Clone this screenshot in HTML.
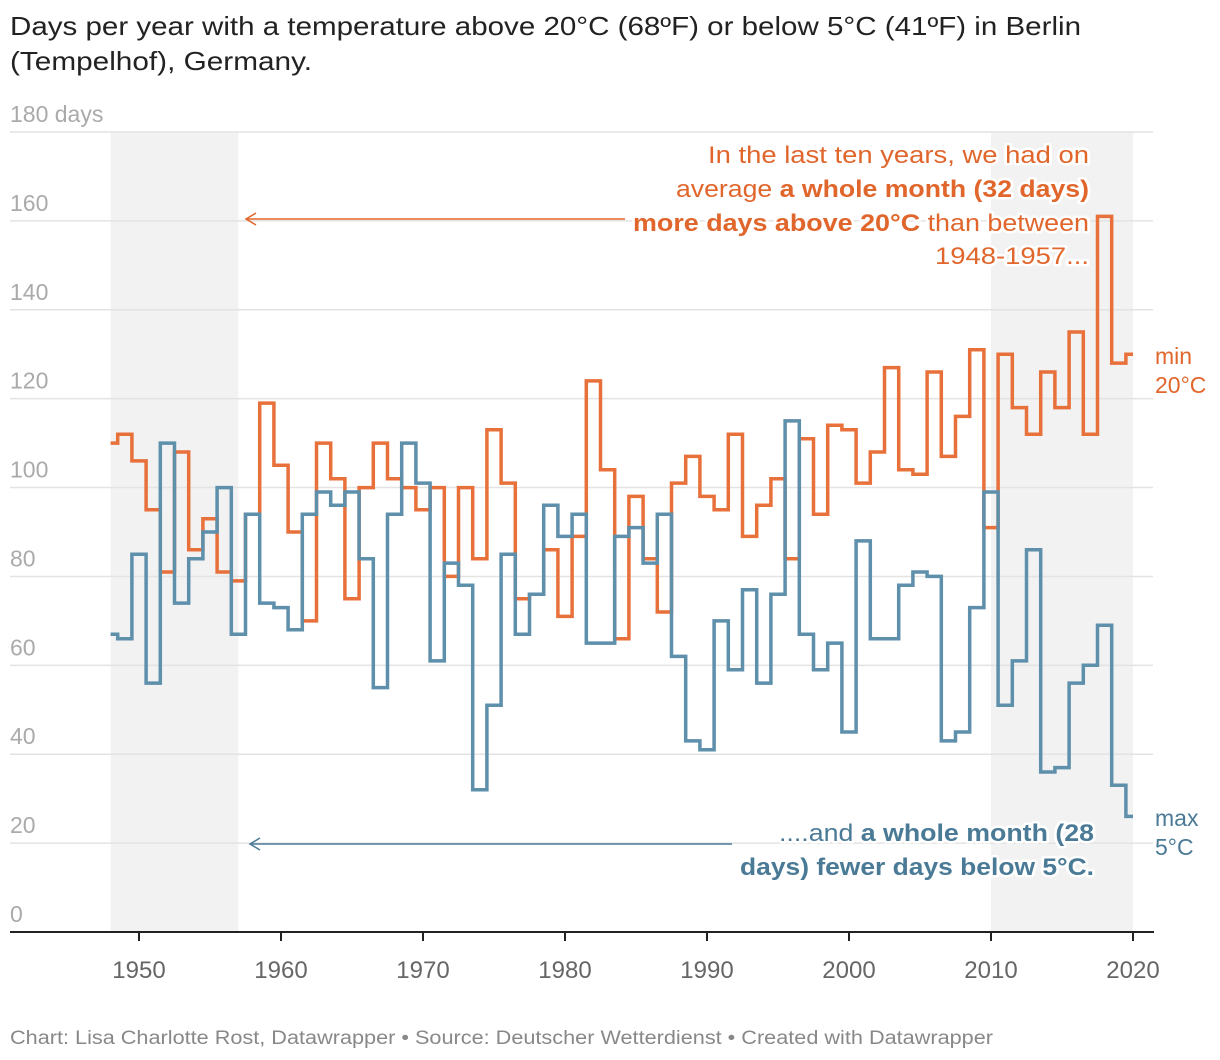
<!DOCTYPE html>
<html><head><meta charset="utf-8"><style>
body{margin:0;background:#fff;}
svg{display:block;font-family:"Liberation Sans",sans-serif;}
.halo{paint-order:stroke;stroke:#fff;stroke-width:5px;stroke-linejoin:round;}
</style></head><body>
<svg id="chart" width="1220" height="1060" viewBox="0 0 1220 1060">
<text x="10" y="35" font-size="26" fill="#222" textLength="1071" lengthAdjust="spacingAndGlyphs">Days per year with a temperature above 20°C (68ºF) or below 5°C (41ºF) in Berlin</text>
<text x="10" y="70" font-size="26" fill="#222" textLength="302" lengthAdjust="spacingAndGlyphs">(Tempelhof), Germany.</text>
<g id="shade"></g>
<g id="grid"></g>
<g id="lines"></g>
<g id="annot">
<line x1="625" y1="219" x2="247" y2="219" stroke="#e0662c" stroke-width="1.5"/>
<polyline points="256,213 246,219 256,225" fill="none" stroke="#e0662c" stroke-width="1.5"/>
<line x1="732" y1="844" x2="251" y2="844" stroke="#4a7a96" stroke-width="1.5"/>
<polyline points="260,838 250,844 260,850" fill="none" stroke="#4a7a96" stroke-width="1.5"/>
<g font-size="24" fill="#e0662c" text-anchor="end" class="halo">
<text x="1089" y="163" textLength="381" lengthAdjust="spacingAndGlyphs">In the last ten years, we had on</text>
<text x="1089" y="197" textLength="413" lengthAdjust="spacingAndGlyphs">average <tspan font-weight="bold">a whole month (32 days)</tspan></text>
<text x="1089" y="231" textLength="456" lengthAdjust="spacingAndGlyphs"><tspan font-weight="bold">more days above 20°C</tspan> than between</text>
<text x="1089" y="264" textLength="154" lengthAdjust="spacingAndGlyphs">1948-1957...</text>
</g>
<g font-size="24" fill="#4a7a96" text-anchor="end" class="halo">
<text x="1094" y="841" textLength="315" lengthAdjust="spacingAndGlyphs">....and <tspan font-weight="bold">a whole month (28</tspan></text>
<text x="1094" y="875" textLength="354" lengthAdjust="spacingAndGlyphs" font-weight="bold">days) fewer days below 5°C.</text>
</g>
<g font-size="23" fill="#e0662c">
<text x="1155" y="364">min</text><text x="1155" y="393">20°C</text></g>
<g font-size="23" fill="#4a7a96">
<text x="1155" y="826">max</text><text x="1155" y="855">5°C</text></g>
</g>
<text x="10" y="1044" font-size="19" fill="#888" textLength="983" lengthAdjust="spacingAndGlyphs">Chart: Lisa Charlotte Rost, Datawrapper • Source: Deutscher Wetterdienst • Created with Datawrapper</text>
</svg>
<script>
const startYear = 1948;
const hotDays = [110,112,106,95,81,108,86,93,81,79,94,119,105,90,70,110,102,75,100,110,102,100,95,100,80,100,84,113,101,75,76,86,71,89,124,104,66,98,84,72,101,107,98,95,112,89,96,102,84,111,94,114,113,101,108,127,104,103,126,107,116,131,91,130,118,112,126,118,135,112,161,128,130];
const coldDays = [67,66,85,56,110,74,84,90,100,67,94,74,73,68,94,99,96,99,84,55,94,110,101,61,83,78,32,51,85,67,76,96,89,94,65,65,89,91,83,94,62,43,41,70,59,77,56,76,115,67,59,65,45,88,66,66,78,81,80,43,45,73,99,51,61,86,36,37,56,60,69,33,26];
const yTicks = [0,20,40,60,80,100,120,140,160,180];
const xTicks = [1950,1960,1970,1980,1990,2000,2010,2020];
const shadeRanges = [[1948,1957],[2010,2020]];

const NS='http://www.w3.org/2000/svg';
const xs = y => 139 + (y-1950)*14.2;
const ys = v => 932 - v*800/180;
function mk(tag, attrs, parent){const e=document.createElementNS(NS,tag);for(const k in attrs)e.setAttribute(k,attrs[k]);parent.appendChild(e);return e;}
const shade=document.getElementById('shade'), grid=document.getElementById('grid'), lines=document.getElementById('lines');
shadeRanges.forEach(r=>{
  const e=mk('rect',{x:xs(r[0]),y:ys(180),width:xs(r[1])-xs(r[0]),height:ys(0)-ys(180),fill:'#f2f2f2'},shade);
  
  
});
yTicks.forEach(v=>{
  if(v>0){const l=mk('line',{x1:10,x2:1153,y1:ys(v),y2:ys(v),stroke:'#e3e3e3','stroke-width':1.5},grid);
  
  }
  const t=mk('text',{x:10,y:ys(v)-10,'font-size':23,fill:'#aaa'},grid);
  t.textContent = v===180 ? '180 days' : String(v);
  
  
});
const ax=mk('line',{x1:10,x2:1154,y1:ys(0),y2:ys(0),stroke:'#222','stroke-width':2},lines);


xTicks.forEach(y=>{
  const tk=mk('line',{x1:xs(y),x2:xs(y),y1:ys(0),y2:ys(0)+9,stroke:'#222','stroke-width':2},lines);
  
  
  const t=mk('text',{x:xs(y),y:978,'font-size':24,fill:'#666','text-anchor':'middle'},lines);
  t.textContent=String(y);
  
  
});
function stepPath(vals){
  let d='';
  vals.forEach((v,i)=>{
    const yr=startYear+i;
    const x0=xs(Math.max(startYear,yr-0.5)), x1=xs(Math.min(startYear+vals.length-1,yr+0.5));
    d += (i===0?'M':'L')+x0.toFixed(1)+','+ys(v).toFixed(1)+' L'+x1.toFixed(1)+','+ys(v).toFixed(1)+' ';
  });
  return d;
}
const orange=mk('path',{d:stepPath(hotDays),fill:'none',stroke:'#e8703a','stroke-width':3.5,'stroke-linejoin':'miter'},lines);


const blue=mk('path',{d:stepPath(coldDays),fill:'none',stroke:'#5e8fab','stroke-width':3.5,'stroke-linejoin':'miter'},lines);


</script>
</body></html>
